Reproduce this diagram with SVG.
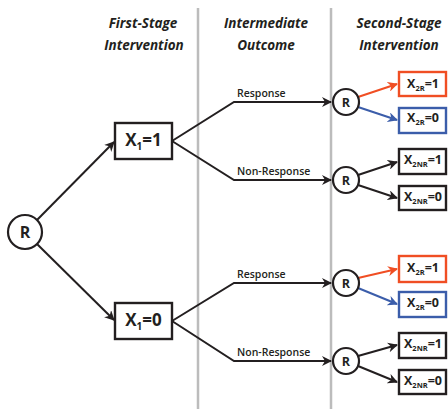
<svg xmlns="http://www.w3.org/2000/svg" width="448" height="409" viewBox="0 0 448 409">
<style>
.hdr{font-family:"Open Sans","Liberation Sans",sans-serif;font-style:italic;font-weight:700;font-size:13.5px;fill:#231f20;text-anchor:middle}
.div{stroke:#bcbcbc;stroke-width:2.5}
.ln{fill:none;stroke:#231f20;stroke-width:2}
.red{fill:none;stroke:#f04e23;stroke-width:2}
.blue{fill:none;stroke:#3b5daa;stroke-width:2}
.circ{fill:#fff;stroke:#231f20;stroke-width:2.2}
.box{fill:#fff;stroke:#231f20;stroke-width:2.4}
.boxr{fill:#fff;stroke:#f04e23;stroke-width:2.4}
.boxb{fill:#fff;stroke:#3b5daa;stroke-width:2.4}
.rl{font-family:"Open Sans","Liberation Sans",sans-serif;font-weight:700;fill:#231f20;text-anchor:middle}
.lbl{font-family:"Open Sans","Liberation Sans",sans-serif;font-weight:600;font-size:10.5px;fill:#231f20}
.x1{font-family:"Open Sans","Liberation Sans",sans-serif;font-weight:700;font-size:17px;fill:#231f20;text-anchor:middle}
.x2{font-family:"Open Sans","Liberation Sans",sans-serif;font-weight:700;font-size:12.5px;fill:#231f20;text-anchor:middle}
</style>
<defs>
<marker id="ah" viewBox="0 0 10 10" refX="9" refY="5" markerWidth="5" markerHeight="5" orient="auto" markerUnits="strokeWidth"><path d="M0,0 L10,5 L0,10 L3,5 z" fill="#231f20"/></marker>
<marker id="ahr" viewBox="0 0 10 10" refX="9" refY="5" markerWidth="5" markerHeight="5" orient="auto" markerUnits="strokeWidth"><path d="M0,0 L10,5 L0,10 L3,5 z" fill="#f04e23"/></marker>
<marker id="ahb" viewBox="0 0 10 10" refX="9" refY="5" markerWidth="5" markerHeight="5" orient="auto" markerUnits="strokeWidth"><path d="M0,0 L10,5 L0,10 L3,5 z" fill="#3b5daa"/></marker>
</defs>
<g id="headers">
<text class="hdr" x="143" y="28">First-Stage</text>
<text class="hdr" x="144" y="50">Intervention</text>
<text class="hdr" x="266" y="28">Intermediate</text>
<text class="hdr" x="266" y="50">Outcome</text>
<text class="hdr" x="399" y="28">Second-Stage</text>
<text class="hdr" x="399" y="50">Intervention</text>
</g>
<g id="dividers">
<line class="div" x1="198" y1="8" x2="198" y2="409"/>
<line class="div" x1="331" y1="8" x2="331" y2="409"/>
</g>
<g id="connectors">
<line class="ln" x1="37" y1="220" x2="114" y2="142" marker-end="url(#ah)"/>
<line class="ln" x1="37" y1="244" x2="114" y2="320" marker-end="url(#ah)"/>
<polyline class="ln" points="172,141 234,102 331,102" marker-end="url(#ah)"/>
<polyline class="ln" points="172,141 234,180 331,180" marker-end="url(#ah)"/>
<polyline class="ln" points="172,321 234,283 331,283" marker-end="url(#ah)"/>
<polyline class="ln" points="172,321 234,361 331,361" marker-end="url(#ah)"/>
<line class="red" x1="358" y1="97" x2="397" y2="84" marker-end="url(#ahr)"/>
<line class="blue" x1="358" y1="107" x2="397" y2="120" marker-end="url(#ahb)"/>
<line class="ln" x1="358" y1="175" x2="397" y2="162" marker-end="url(#ah)"/>
<line class="ln" x1="358" y1="185" x2="397" y2="198" marker-end="url(#ah)"/>
<line class="red" x1="358" y1="278" x2="397" y2="269" marker-end="url(#ahr)"/>
<line class="blue" x1="358" y1="288" x2="397" y2="304" marker-end="url(#ahb)"/>
<line class="ln" x1="358" y1="356" x2="397" y2="345" marker-end="url(#ah)"/>
<line class="ln" x1="358" y1="366" x2="397" y2="382" marker-end="url(#ah)"/>
<text class="lbl" x="237" y="97">Response</text>
<text class="lbl" x="237" y="175">Non-Response</text>
<text class="lbl" x="237" y="278">Response</text>
<text class="lbl" x="237" y="356">Non-Response</text>
</g>
<g id="root">
<circle class="circ" cx="25" cy="232" r="17"/>
<text class="rl" x="25" y="238" font-size="16">R</text>
</g>
<g id="x1_1">
<rect class="box" x="115" y="123" width="57" height="36"/>
<text class="x1" x="143.5" y="146">X<tspan font-size="10" dy="4">1</tspan><tspan dy="-4">=1</tspan></text>
</g>
<g id="x1_0">
<rect class="box" x="115" y="303" width="57" height="36"/>
<text class="x1" x="143.5" y="326">X<tspan font-size="10" dy="4">1</tspan><tspan dy="-4">=0</tspan></text>
</g>
<g id="r_resp1">
<circle class="circ" cx="346" cy="102" r="13"/>
<text class="rl" x="346" y="107" font-size="12.5">R</text>
</g>
<g id="r_nonresp1">
<circle class="circ" cx="346" cy="180" r="13"/>
<text class="rl" x="346" y="185" font-size="12.5">R</text>
</g>
<g id="r_resp0">
<circle class="circ" cx="346" cy="283" r="13"/>
<text class="rl" x="346" y="288" font-size="12.5">R</text>
</g>
<g id="r_nonresp0">
<circle class="circ" cx="346" cy="361" r="13"/>
<text class="rl" x="346" y="366" font-size="12.5">R</text>
</g>
<g id="x2r_1a">
<rect class="boxr" x="399" y="72" width="47" height="24"/>
<text class="x2" x="423" y="87.5">X<tspan font-size="7.5" dy="3">2R</tspan><tspan dy="-3">=1</tspan></text>
</g>
<g id="x2r_0a">
<rect class="boxb" x="399" y="108" width="47" height="25"/>
<text class="x2" x="423" y="122">X<tspan font-size="7.5" dy="3">2R</tspan><tspan dy="-3">=0</tspan></text>
</g>
<g id="x2nr_1a">
<rect class="box" x="399" y="149" width="47" height="25"/>
<text class="x2" x="423" y="164">X<tspan font-size="7.5" dy="3">2NR</tspan><tspan dy="-3">=1</tspan></text>
</g>
<g id="x2nr_0a">
<rect class="box" x="399" y="186" width="47" height="24"/>
<text class="x2" x="423" y="201">X<tspan font-size="7.5" dy="3">2NR</tspan><tspan dy="-3">=0</tspan></text>
</g>
<g id="x2r_1b">
<rect class="boxr" x="399" y="256" width="47" height="26"/>
<text class="x2" x="423" y="272">X<tspan font-size="7.5" dy="3">2R</tspan><tspan dy="-3">=1</tspan></text>
</g>
<g id="x2r_0b">
<rect class="boxb" x="399" y="292" width="47" height="25"/>
<text class="x2" x="423" y="307">X<tspan font-size="7.5" dy="3">2R</tspan><tspan dy="-3">=0</tspan></text>
</g>
<g id="x2nr_1b">
<rect class="box" x="399" y="333" width="47" height="25"/>
<text class="x2" x="423" y="348">X<tspan font-size="7.5" dy="3">2NR</tspan><tspan dy="-3">=1</tspan></text>
</g>
<g id="x2nr_0b">
<rect class="box" x="399" y="370" width="47" height="24"/>
<text class="x2" x="423" y="385">X<tspan font-size="7.5" dy="3">2NR</tspan><tspan dy="-3">=0</tspan></text>
</g>
</svg>
